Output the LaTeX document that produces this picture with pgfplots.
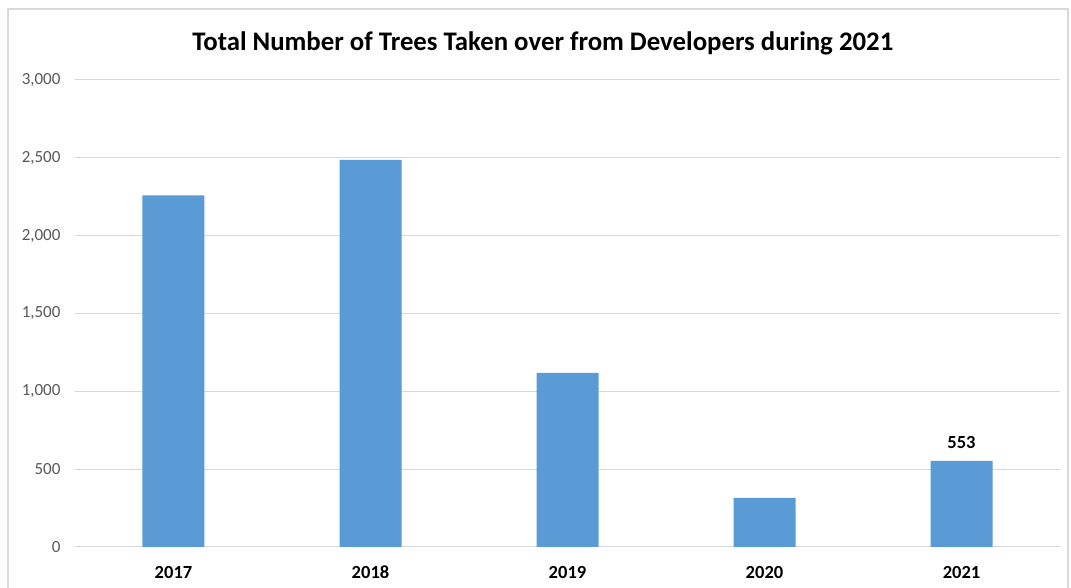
\documentclass[border=0pt]{standalone}
\usepackage{pgfplots}
\pgfplotsset{compat=1.18}
\usepackage{fontspec}
\setmainfont{Carlito}
\definecolor{barblue}{HTML}{5B9BD5}
\definecolor{gridgray}{HTML}{D9D9D9}
\definecolor{ticktext}{HTML}{595959}
\definecolor{framegray}{HTML}{D9D9D9}
\begin{document}
\begin{tikzpicture}[x=1pt,y=1pt]
\path[use as bounding box] (-75,-41) rectangle (996,547);
\fill[white] (-75,-41) rectangle (996,547);
\draw[framegray,line width=1.2pt] (-67,-50) rectangle (993,538);
\begin{axis}[
  at={(0,0)}, anchor=south west,
  scale only axis,
  width=985pt, height=467pt,
  xmin=-0.5, xmax=4.5,
  ymin=0, ymax=3000,
  axis line style={draw=none},
  tick style={draw=none},
  ytick={0,500,1000,1500,2000,2500,3000},
  ymajorgrids,
  grid style={gridgray, line width=1pt},
  xtick={0,1,2,3,4},
  xticklabels={2017,2018,2019,2020,2021},
  /pgf/number format/assume math mode=true,
  /pgf/number format/1000 sep={,},
  scaled y ticks=false,
  yticklabel style={font=\fontsize{17}{18}\selectfont, text=ticktext, xshift=-11pt},
  xticklabel style={font=\bfseries\fontsize{18.5}{20}\selectfont, text=black, anchor=base, yshift=-32pt, text height=12pt, text depth=0pt},
  clip=false,
]
\addplot[ybar, bar width=62pt, fill=barblue, draw=none] coordinates {
  (0,2258) (1,2487) (2,1118) (3,316) (4,553)
};
\addplot[only marks, mark=none, nodes near coords={\textbf{553}}, nodes near coords style={font=\fontsize{18.5}{20}\selectfont, text=black, anchor=south, yshift=9pt}] coordinates {(4,553)};
\node[font=\bfseries\fontsize{26.8}{30}\selectfont, anchor=center] at (axis description cs:0.475,1.078) {Total Number of Trees Taken over from Developers during 2021};
\end{axis}
\end{tikzpicture}
\end{document}
